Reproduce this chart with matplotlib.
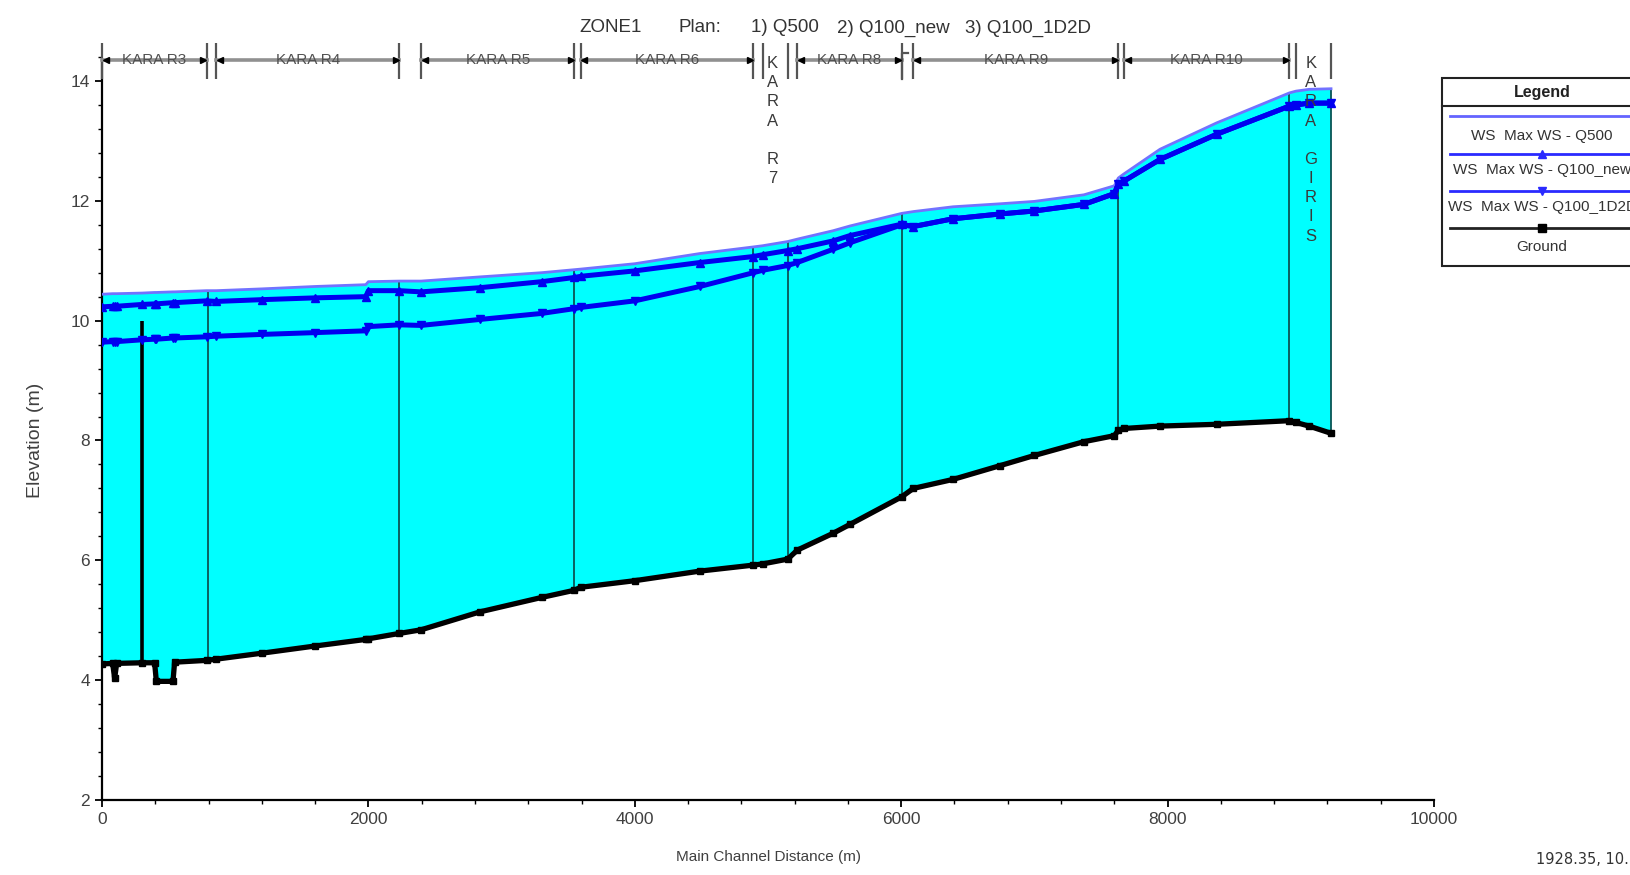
import numpy as np
import matplotlib
matplotlib.use("Agg")
import matplotlib.pyplot as plt
from matplotlib import font_manager
from matplotlib.lines import Line2D
from matplotlib.patches import Rectangle
from matplotlib.ticker import MultipleLocator

# profile data (main channel distance in m, elevations in m)
dist = [0, 80, 95, 110, 300, 395, 408, 533, 545, 785,
        856, 1200, 1600, 1980, 2000, 2232, 2395, 2838, 3300, 3546,
        3594, 4000, 4489, 4890, 4960, 5148, 5220, 5488, 5616, 6004,
        6091, 6389, 6742, 7000, 7372, 7600, 7630, 7673, 7943, 8368,
        8914, 8964, 9062, 9227]

ground = [4.27, 4.28, 4.03, 4.28, 4.29, 4.29, 3.98, 3.98, 4.30, 4.33,
          4.35, 4.45, 4.57, 4.68, 4.69, 4.78, 4.84, 5.14, 5.38, 5.50,
          5.55, 5.66, 5.82, 5.92, 5.94, 6.02, 6.17, 6.45, 6.60, 7.06,
          7.20, 7.35, 7.58, 7.75, 7.98, 8.08, 8.17, 8.20, 8.24, 8.27,
          8.33, 8.30, 8.24, 8.12]

ws_q500 = [10.44, 10.45, 10.45, 10.45, 10.46, 10.47, 10.47, 10.48, 10.48, 10.50,
           10.50, 10.53, 10.57, 10.60, 10.65, 10.66, 10.66, 10.73, 10.80, 10.85,
           10.86, 10.95, 11.12, 11.23, 11.25, 11.32, 11.36, 11.50, 11.58, 11.79,
           11.82, 11.90, 11.95, 11.99, 12.10, 12.25, 12.38, 12.45, 12.86, 13.30,
           13.80, 13.83, 13.86, 13.87]

ws_q100_new = [10.23, 10.24, 10.24, 10.24, 10.27, 10.28, 10.28, 10.30, 10.30, 10.33,
               10.32, 10.35, 10.38, 10.40, 10.50, 10.50, 10.48, 10.55, 10.65, 10.72,
               10.74, 10.83, 10.97, 11.07, 11.10, 11.17, 11.20, 11.33, 11.42, 11.61,
               11.57, 11.70, 11.78, 11.83, 11.94, 12.12, 12.28, 12.33, 12.69, 13.11,
               13.58, 13.60, 13.63, 13.63]

ws_q100_1d2d = [9.64, 9.65, 9.65, 9.65, 9.68, 9.69, 9.69, 9.71, 9.71, 9.73,
                9.74, 9.77, 9.80, 9.83, 9.90, 9.93, 9.92, 10.02, 10.12, 10.20,
                10.22, 10.33, 10.57, 10.80, 10.84, 10.92, 10.97, 11.19, 11.30, 11.60,
                11.57, 11.70, 11.78, 11.83, 11.94, 12.12, 12.28, 12.33, 12.69, 13.11,
                13.58, 13.60, 13.63, 13.63]

# reach brackets along the top
reach_start = [0, 856, 2395, 3594, 4960, 5220, 6091, 7673, 8964]
reach_end = [785, 2232, 3546, 4890, 5148, 6004, 7630, 8914, 9227]
reach_names = ["KARA R3", "KARA R4", "KARA R5", "KARA R6", "KARA R7",
               "KARA R8", "KARA R9", "KARA R10", "KARA GIRIS"]
reach_vertical = [False, False, False, False, True, False, False, False, True]

# junction / cross-section lines drawn through the water
xs_lines = [798, 2230, 3546, 4890, 5148, 6004, 7630, 8914, 9227]
structure_x = 298
structure_top = 10.0

names = {f.name for f in font_manager.fontManager.ttflist}
narrow = "Liberation Sans Narrow" if "Liberation Sans Narrow" in names else "Liberation Sans"
plt.rcParams["font.family"] = [narrow, "DejaVu Sans"]

W, H = 1630, 875
fig = plt.figure(figsize=(W / 100, H / 100), dpi=100)
ax = fig.add_axes([102 / W, 75 / H, 1332 / W, (800 - 39) / H])
ax.set_xlim(0, 10000)
ax.set_ylim(2, 14.7)

dist = np.array(dist)
ground = np.array(ground)
ws_q500 = np.array(ws_q500)

ax.fill_between(dist, ground, ws_q500, color="#00FFFF", lw=0, zorder=1)

g_lo = np.interp(xs_lines, dist, ground)
w_hi = np.interp(xs_lines, dist, ws_q500)
ax.vlines(xs_lines, g_lo, w_hi, colors="#0d4545", lw=1.2, zorder=2)
ax.vlines(structure_x, np.interp(structure_x, dist, ground), structure_top,
          colors="black", lw=2.6, zorder=2)

ax.plot(dist, ws_q500, color="#7272FF", lw=2.0, zorder=3)
ax.plot(dist, ws_q100_new, color="#0000F0", lw=3.6, marker="^", ms=5.5, zorder=4)
ax.plot(dist, ws_q100_1d2d, color="#0000F0", lw=3.6, marker="v", ms=5.5, zorder=4)
ax.plot(dist, ground, color="black", lw=3.8, marker="s", ms=5, zorder=5)

# reach brackets
y_br, t_lo, t_hi = 14.345, 14.03, 14.64
step = 0.32
for s, e, name, vert in zip(reach_start, reach_end, reach_names, reach_vertical):
    ax.vlines([s, e], t_lo, t_hi, colors="#555555", lw=1.6, clip_on=False, zorder=6)
    if vert:
        xc = (s + e) / 2 - 20
        y = 14.29
        for ch in name:
            if ch == " ":
                y -= step
                continue
            ax.text(xc, y, ch, ha="center", va="center", fontsize=12,
                    color="#3a3a3a", zorder=7)
            y -= step
        continue
    ax.plot([s, e], [y_br, y_br], color="#909090", lw=2.6, zorder=6, clip_on=False)
    ax.plot([s + 28], [y_br], marker="<", color="black", ms=5, zorder=7, clip_on=False)
    ax.plot([e - 28], [y_br], marker=">", color="black", ms=5, zorder=7, clip_on=False)
    ax.text((s + e) / 2, y_br, name, ha="center", va="center", fontsize=11,
            color="#505050", zorder=8)

# little hook at the end of KARA R8
ax.plot([6004, 6004, 6054], [14.03, 14.47, 14.47], color="#555555", lw=1.6, zorder=6)

for sp in ["top", "right"]:
    ax.spines[sp].set_visible(False)
ax.spines["left"].set_linewidth(1.6)
ax.spines["bottom"].set_linewidth(1.6)
ax.spines["left"].set_bounds(2, 14.3)

ax.xaxis.set_major_locator(MultipleLocator(2000))
ax.xaxis.set_minor_locator(MultipleLocator(400))
ax.yaxis.set_major_locator(MultipleLocator(2))
ax.yaxis.set_minor_locator(MultipleLocator(0.4))
ax.set_yticks([2, 4, 6, 8, 10, 12, 14])
ax.tick_params(which="major", length=5, width=1.3, labelsize=12.5, labelcolor="#404040")
ax.tick_params(which="minor", length=3, width=1)

fig.text(36 / W, 1 - 440 / H, "Elevation (m)", rotation=90, ha="center", va="center",
         fontsize=14, color="#404040")
fig.text(769 / W, 1 - 857 / H, "Main Channel Distance (m)", ha="center", va="center",
         fontsize=11, color="#404040")

# title pieces
title_y = 1 - 28 / H
fig.text(579 / W, title_y, "ZONE1", ha="left", va="center", fontsize=13.5, color="#333333")
fig.text(679 / W, title_y, "Plan:", ha="left", va="center", fontsize=13.5, color="#333333")
fig.text(751 / W, title_y, "1) Q500", ha="left", va="center", fontsize=13.5, color="#333333")
fig.text(837 / W, title_y, "2) Q100_new", ha="left", va="center", fontsize=13.5, color="#333333")
fig.text(965 / W, title_y, "3) Q100_1D2D", ha="left", va="center", fontsize=13.5, color="#333333")

# legend box (runs off the right edge like the screenshot)
fig.add_artist(Rectangle((1442 / W, 1 - 266 / H), 220 / W, 188 / H, transform=fig.transFigure,
                         facecolor="white", edgecolor="#222222", lw=1.5))
fig.add_artist(Line2D([1442 / W, 1.05], [1 - 106 / H, 1 - 106 / H], transform=fig.transFigure,
                      color="#222222", lw=1.5))
fig.text(1542 / W, 1 - 92 / H, "Legend", ha="center", va="center", fontsize=11.5,
         fontweight="bold", color="#222222")

leg_items = [("WS  Max WS - Q500", "#6464FF", None, 116, 136),
             ("WS  Max WS - Q100_new", "#2a2aFF", "^", 154, 170),
             ("WS  Max WS - Q100_1D2D", "#2a2aFF", "v", 191, 207),
             ("Ground", "#222222", "s", 228, 247)]
for label, col, mk, yl, yt in leg_items:
    fig.add_artist(Line2D([1450 / W, 1.05], [1 - yl / H, 1 - yl / H], transform=fig.transFigure,
                          color=col, lw=2))
    if mk:
        fig.add_artist(Line2D([1542 / W], [1 - yl / H], transform=fig.transFigure,
                              color=col if mk != "s" else "black", marker=mk, ms=6, lw=0))
    fig.text(1542 / W, 1 - yt / H, label, ha="center", va="center", fontsize=11, color="#333333")

fig.text(1536 / W, 1 - 860 / H, "1928.35, 10.25", ha="left", va="center", fontsize=10.5,
         color="#333333", family="DejaVu Sans")

fig.savefig("out.png", dpi=100)
